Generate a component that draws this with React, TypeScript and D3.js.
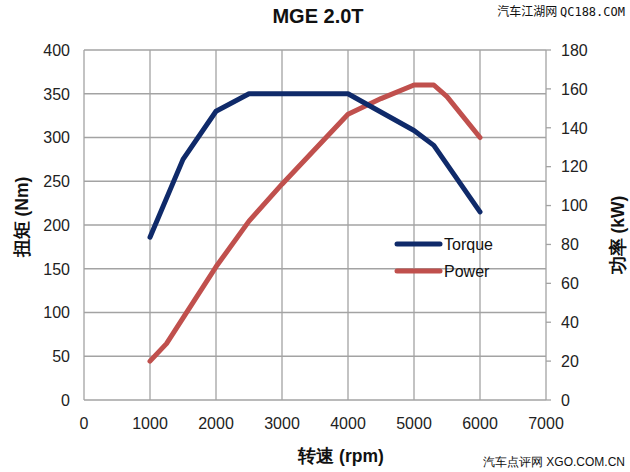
import React from "react";
import * as d3 from "d3";

const rpmTicks = [0, 1000, 2000, 3000, 4000, 5000, 6000, 7000];
const torqueTicks = [0, 50, 100, 150, 200, 250, 300, 350, 400];
const powerTicks = [0, 20, 40, 60, 80, 100, 120, 140, 160, 180];

const torqueRpm = [1000, 1500, 2000, 2500, 4000, 5000, 5300, 6000];
const torqueVal = [186, 275, 330, 350, 350, 308, 291, 215];

const powerRpm = [1000, 1250, 2000, 2500, 3000, 4000, 4500, 5000, 5300, 5500, 6000];
const powerVal = [20, 29, 68.5, 92, 111, 147, 155, 162, 162, 156, 135];

const seriesNames = ["Torque", "Power"];
const seriesColors = ["#0f2a6a", "#c0504d"];

const W = 630, H = 472;
const left = 84, right = 546, top = 50, bottom = 400;
const FONT = "'Liberation Sans', Arial, sans-serif";

export default function App() {
  const x = d3.scaleLinear().domain([0, 7000]).range([left, right]);
  const yL = d3.scaleLinear().domain([0, 400]).range([bottom, top]);
  const yR = d3.scaleLinear().domain([0, 180]).range([bottom, top]);

  const torqueLine = d3.line<number>().x((d, i) => x(torqueRpm[i])).y((d) => yL(d))(torqueVal) || "";
  const powerLine = d3.line<number>().x((d, i) => x(powerRpm[i])).y((d) => yR(d))(powerVal) || "";

  const grid = "#a3a3a3";

  return (
    <svg width={W} height={H} style={{ position: "absolute", left: 0, top: 0, background: "#fff" }} fontFamily={FONT}>
      <rect width={W} height={H} fill="#fff" />
      {torqueTicks.map((t) => (
        <line key={"h" + t} x1={left} x2={right} y1={yL(t)} y2={yL(t)} stroke={grid} strokeWidth={1.3} />
      ))}
      {rpmTicks.map((t) => (
        <line key={"v" + t} x1={x(t)} x2={x(t)} y1={top} y2={bottom} stroke={grid} strokeWidth={1.3} />
      ))}
      {powerTicks.map((t) => (
        <line key={"rt" + t} x1={right} x2={right + 5} y1={yR(t)} y2={yR(t)} stroke={grid} strokeWidth={1.3} />
      ))}
      <path d={powerLine} fill="none" stroke={seriesColors[1]} strokeWidth={5} strokeLinejoin="round" strokeLinecap="round" />
      <path d={torqueLine} fill="none" stroke={seriesColors[0]} strokeWidth={5} strokeLinejoin="round" strokeLinecap="round" />

      {torqueTicks.map((t) => (
        <text key={"lt" + t} x={70} y={yL(t)} dy="0.36em" textAnchor="end" fontSize={16} fill="#222">{t}</text>
      ))}
      {powerTicks.map((t) => (
        <text key={"rl" + t} x={561} y={yR(t)} dy="0.36em" textAnchor="start" fontSize={16} fill="#222">{t}</text>
      ))}
      {rpmTicks.map((t) => (
        <text key={"xl" + t} x={x(t)} y={429} textAnchor="middle" fontSize={16} fill="#222">{t}</text>
      ))}

      <text x={318} y={23} textAnchor="middle" fontSize={20} fontWeight="bold" fill="#111">MGE 2.0T</text>

      <text transform="translate(28,217) rotate(-90)" textAnchor="middle" fontSize={17.5} fontWeight="bold" fill="#111">扭矩 (Nm)</text>
      <text transform="translate(624,235) rotate(-90)" textAnchor="middle" fontSize={17.5} fontWeight="bold" fill="#111">功率 (kW)</text>
      <text x={341} y={462} textAnchor="middle" fontSize={17.5} fontWeight="bold" fill="#111">转速 (rpm)</text>

      {seriesNames.map((n, i) => (
        <g key={n} transform={`translate(0,${244 + i * 27})`}>
          <line x1={397} x2={440} y1={0} y2={0} stroke={seriesColors[i]} strokeWidth={5} strokeLinecap="round" />
          <text x={444} y={0} dy="0.36em" fontSize={16} fill="#111">{n}</text>
        </g>
      ))}

      <text x={625} y={16} textAnchor="end" fontSize={12} fill="#111">
        <tspan fontFamily="'Noto Sans CJK SC'">汽车江湖网 </tspan>
        <tspan fontFamily="'DejaVu Sans Mono', 'Liberation Mono', monospace">QC188.COM</tspan>
      </text>
      <text x={625} y={466} textAnchor="end" fontSize={12} fill="#111">汽车点评网 XGO.COM.CN</text>
    </svg>
  );
}
